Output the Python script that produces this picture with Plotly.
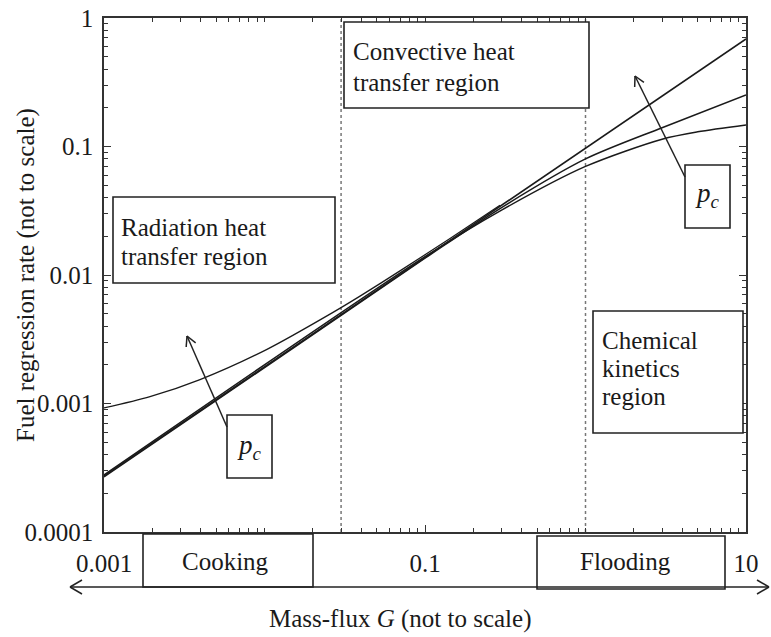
import math
import plotly.graph_objects as go

# ---------------- data ----------------
G_top = [0.001, 10]
r_top = [2.73e-4, 0.687]

G_mid = [0.001, 0.1, 0.3, 1, 3, 10]
r_mid = [2.68e-4, 0.0135, 0.0335, 0.080, 0.140, 0.252]

G_low = [0.001, 0.1, 0.3, 1, 3, 5, 10]
r_low = [2.78e-4, 0.0139, 0.032, 0.070, 0.114, 0.13, 0.147]

G_rad = [0.001, 0.001935, 0.003964, 0.01036, 0.02672, 0.03936, 0.06985, 0.1432, 0.2933]
r_rad = [9.23e-4, 1.13e-3, 1.535e-3, 2.64e-3, 5.12e-3, 6.85e-3, 0.01076, 0.01923, 0.03486]

G_boundaries = [0.03, 1]

x_tick_vals = [0.001, 0.1, 10]
x_tick_text = ["0.001", "0.1", "10"]
y_tick_vals = [0.0001, 0.001, 0.01, 0.1, 1]
y_tick_text = ["0.0001", "0.001", "0.01", "0.1", "1"]

FONT = "Liberation Serif"
FS = 25
INK = "#1a1a1a"

# ---------------- layout geometry (pixels) ----------------
W, H = 771, 637
L, R, T, B = 104, 25, 18, 105
PW, PH = W - L - R, H - T - B


def px(x):
    return (x - L) / PW


def py(y):
    return (H - B - y) / PH


fig = go.Figure()

# region boundaries (dotted)
for g in G_boundaries:
    fig.add_trace(go.Scatter(x=[g, g], y=[1e-4, 1], mode="lines",
                             line=dict(color="#777", width=1.5, dash="dot"),
                             hoverinfo="skip", showlegend=False))

for gx, ry, w in [(G_rad, r_rad, 1.3), (G_low, r_low, 1.5), (G_mid, r_mid, 1.5), (G_top, r_top, 1.6)]:
    fig.add_trace(go.Scatter(x=gx, y=ry, mode="lines",
                             line=dict(color=INK, width=w, shape="spline", smoothing=0.8),
                             hoverinfo="skip", showlegend=False))

shapes = []


def box(x0, y0, x1, y1):
    shapes.append(dict(type="rect", xref="paper", yref="paper",
                       x0=px(x0), x1=px(x1), y0=py(y1), y1=py(y0),
                       line=dict(color="#222", width=1.6), fillcolor="white", layer="above"))


def seg(x0, y0, x1, y1, w=1.5):
    shapes.append(dict(type="line", xref="paper", yref="paper",
                       x0=px(x0), x1=px(x1), y0=py(y0), y1=py(y1),
                       line=dict(color="#222", width=w), layer="above"))


def arrow(xt, yt, xh, yh, head=11, ang=28):
    seg(xt, yt, xh, yh)
    dx, dy = xt - xh, yt - yh
    n = math.hypot(dx, dy)
    ux, uy = dx / n, dy / n
    for s in (-1, 1):
        a = math.radians(ang * s)
        vx = ux * math.cos(a) - uy * math.sin(a)
        vy = ux * math.sin(a) + uy * math.cos(a)
        seg(xh, yh, xh + head * vx, yh + head * vy)


box(113, 197, 335, 283)   # radiation
box(344, 22, 589, 108)    # convective
box(593, 311, 743, 433)   # chemical
box(685, 165, 730, 228)   # pc right
box(227, 415, 272, 478)   # pc left
box(143, 534, 313, 587)   # cooking
box(537, 536, 725, 589)   # flooding

arrow(227, 427, 187, 336)
arrow(685, 177, 635, 76)
# double arrow along the bottom
seg(70, 587, 769, 587)
seg(70, 587, 82, 580); seg(70, 587, 82, 594)
seg(769, 587, 757, 580); seg(769, 587, 757, 594)

anns = []


def text(x, y, s, xanchor="left", angle=0, size=FS):
    anns.append(dict(xref="paper", yref="paper", x=px(x), y=py(y), text=s,
                     showarrow=False, xanchor=xanchor, yanchor="middle", align="left",
                     textangle=angle, font=dict(family=FONT, size=size, color=INK)))


text(119, 227, "Radiation heat")
text(119, 256, "transfer region")
text(351, 52, "Convective heat")
text(351, 82, "transfer region")
text(600, 340, "Chemical")
text(600, 368, "kinetics")
text(600, 396, "region")
text(707, 195, "<i>p<sub>c</sub></i>", xanchor="center", size=27)
text(249, 447, "<i>p<sub>c</sub></i>", xanchor="center", size=27)
text(225, 561, "Cooking", xanchor="center")
text(625, 561, "Flooding", xanchor="center")
text(400, 619, "Mass-flux <i>G</i> (not to scale)", xanchor="center")
text(26, 275, "Fuel regression rate (not to scale)", xanchor="center", angle=-90)

minor_x = [k * 10 ** e for e in range(-3, 1) for k in range(1, 10) if not (k == 1 and e == -3)]
minor_x = [v for v in minor_x if v not in x_tick_vals]
minor_y = [k * 10 ** e for e in range(-4, 0) for k in range(2, 10)]

axis_common = dict(type="log", showgrid=False, zeroline=False, showline=True,
                   linecolor="#333", linewidth=1.5, ticks="inside", ticklen=7,
                   tickcolor="#333", tickwidth=1.2, mirror="allticks", automargin=False,
                   tickfont=dict(family=FONT, size=FS, color=INK), tickmode="array")

fig.update_layout(
    width=W, height=H, margin=dict(l=L, r=R, t=T, b=B, autoexpand=False),
    plot_bgcolor="white", paper_bgcolor="white", showlegend=False,
    xaxis=dict(axis_common, range=[-3, 1], tickvals=x_tick_vals, ticktext=x_tick_text,
               ticklabelstandoff=8,
               minor=dict(ticks="inside", ticklen=4, tickcolor="#333", tickvals=minor_x)),
    yaxis=dict(axis_common, range=[-4, 0], tickvals=y_tick_vals, ticktext=y_tick_text,
               ticklabelstandoff=4,
               minor=dict(ticks="inside", ticklen=4, tickcolor="#333", tickvals=minor_y)),
    shapes=shapes, annotations=anns,
)

fig.write_html("out.html", config={"displayModeBar": False},
               post_script="document.body.style.margin='0';")
